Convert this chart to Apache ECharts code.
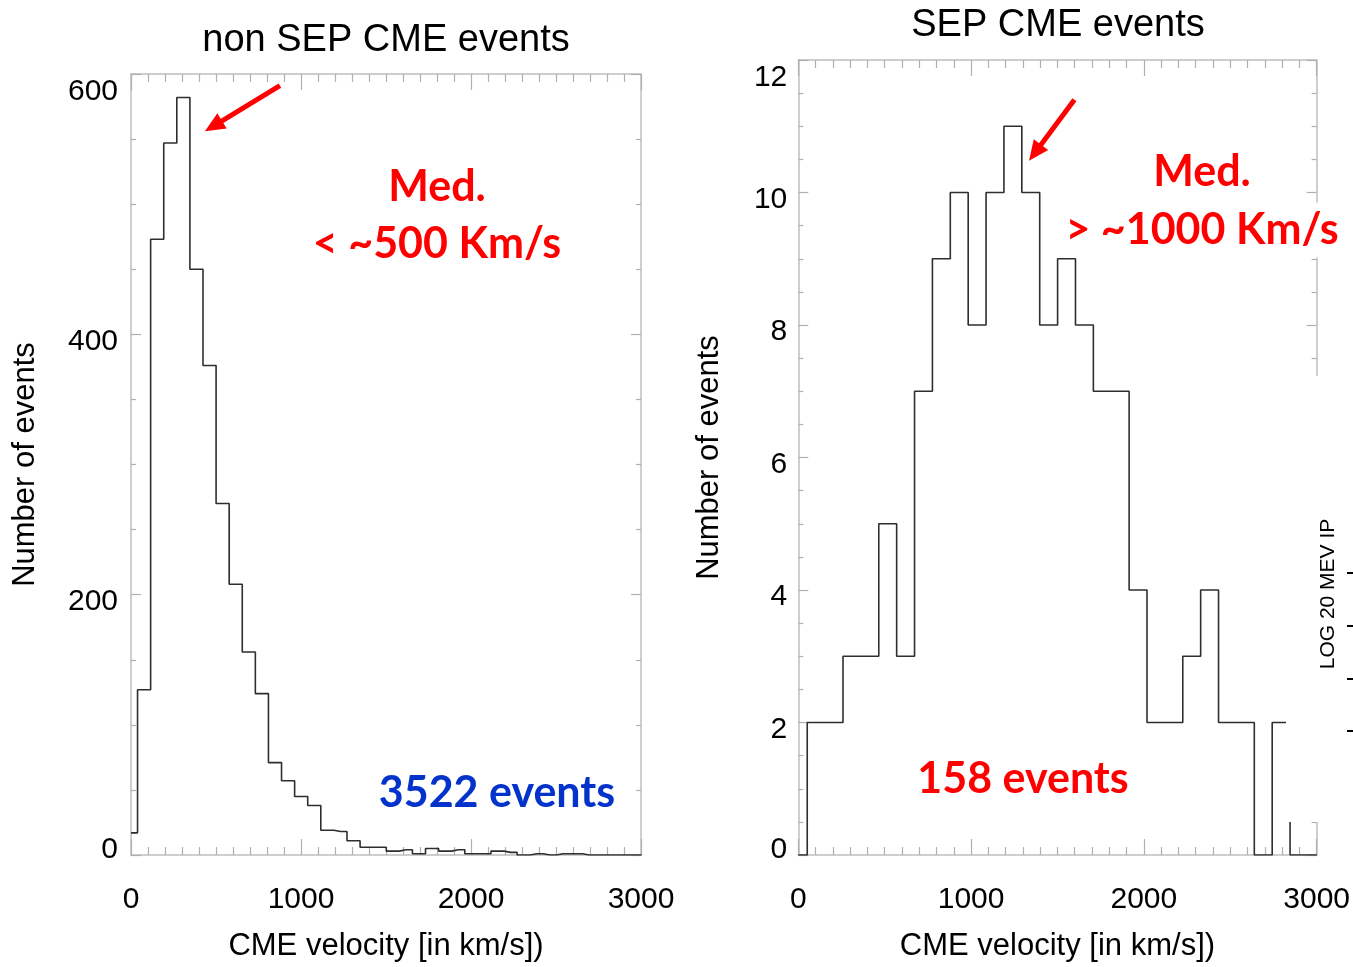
<!DOCTYPE html>
<html>
<head>
<meta charset="utf-8">
<title>CME velocity distributions</title>
<script src="https://cdn.jsdelivr.net/npm/echarts@6/dist/echarts.min.js"></script>
<style>
  html, body { margin: 0; padding: 0; background: #ffffff; }
  #chart { width: 1353px; height: 967px; }
</style>
</head>
<body>
<div id="chart"></div>
<script>
// Histogram bin centres (km/s) and counts, non-SEP CMEs
const nonSepBinCenters = [0, 77, 154, 231, 308, 385, 462, 539, 616, 693, 770, 847, 924, 1001,
  1078, 1155, 1232, 1309, 1386, 1463, 1540, 1617, 1694, 1771, 1848, 1925, 2002, 2079, 2156,
  2233, 2310, 2387, 2464, 2541, 2618, 2695, 2772, 2849, 2926, 3003];
const nonSepCounts = [17, 127, 473, 547, 582, 450, 376, 270, 208, 156, 124, 71, 57, 45,
  38, 19, 18, 11, 6, 6, 3, 4, 1, 5, 3, 4, 1, 1, 3,
  2, 0, 1, 0, 1, 1, 0, 0, 0, 0, 0];

// Histogram bin centres (km/s) and counts, SEP-associated CMEs
const sepBinCenters = [0, 103.5, 207, 310.5, 414, 517.5, 621, 724.5, 828, 931.5, 1035, 1138.5,
  1242, 1345.5, 1449, 1552.5, 1656, 1759.5, 1863, 1966.5, 2070, 2173.5, 2277, 2380.5, 2484,
  2587.5, 2691, 2794.5, 2898, 3001.5];
const sepCounts = [0, 2, 2, 3, 3, 5, 3, 7, 9, 10, 8, 10,
  11, 10, 8, 9, 8, 7, 7, 4, 2, 2, 3, 4, 2,
  2, 0, 2, 0, 0];

// Axis tick values
const speedTicks = [0, 1000, 2000, 3000];
const nonSepCountTicks = [0, 200, 400, 600];
const sepCountTicks = [0, 2, 4, 6, 8, 10, 12];

const FONT = '"Liberation Sans", Arial, Helvetica, sans-serif';
const NOTE_FONT = 'Lato, "Open Sans", sans-serif';
const FRAME = '#bfbfbf';
const TICK = '#b0b0b0';
const HIST = '#2e2e2e';

function pairs(xs, ys) {
  return xs.map((x, i) => [x, ys[i]]);
}

// y labels sit a little below their ticks, the end ones more so
function countLabel(top) {
  return function (v) {
    if (v === top) return '{hi|' + v + '}';
    if (v === 0) return '{lo|' + v + '}';
    return '{mid|' + v + '}';
  };
}
const labelRich = {
  hi:  { fontSize: 30, fontFamily: FONT, color: '#000', padding: [35, 0, 0, 0] },
  lo:  { fontSize: 30, fontFamily: FONT, color: '#000', padding: [0, 0, 10, 0] },
  mid: { fontSize: 30, fontFamily: FONT, color: '#000', padding: [14, 0, 0, 0] }
};

function speedAxis(grid, pos, withText, ticks, nameGap) {
  return {
    gridIndex: grid, type: 'value', position: pos,
    min: ticks[0], max: ticks[ticks.length - 1], interval: ticks[1] - ticks[0],
    axisLine: { show: true, onZero: false, lineStyle: { color: FRAME, width: 1.5 } },
    axisTick: { show: true, inside: true, length: 16, lineStyle: { color: TICK, width: 1.2 } },
    minorTick: { show: true, splitNumber: 10, length: 8, lineStyle: { color: TICK, width: 1.2 } },
    splitLine: { show: false },
    axisLabel: {
      show: withText, margin: 30, fontSize: 30, fontFamily: FONT, color: '#000',
      formatter: (v) => String(v)
    },
    name: withText ? 'CME velocity [in km/s])' : '',
    nameLocation: 'middle', nameGap: nameGap || 0,
    nameTextStyle: { fontSize: 31, fontFamily: FONT, color: '#000' }
  };
}

function countAxis(grid, pos, withText, ticks, nameGap, margin) {
  const top = ticks[ticks.length - 1];
  return {
    gridIndex: grid, type: 'value', position: pos,
    min: ticks[0], max: top, interval: ticks[1] - ticks[0],
    axisLine: { show: true, onZero: false, lineStyle: { color: FRAME, width: 1.5 } },
    axisTick: { show: true, inside: true, length: 10, lineStyle: { color: TICK, width: 1.2 } },
    minorTick: { show: true, splitNumber: 4, length: 5, lineStyle: { color: TICK, width: 1.2 } },
    splitLine: { show: false },
    axisLabel: { show: withText, margin: margin, formatter: countLabel(top), rich: labelRich },
    name: withText ? 'Number of events' : '',
    nameLocation: 'middle', nameGap: nameGap, nameRotate: 90,
    nameTextStyle: { fontSize: 31, fontFamily: FONT, color: '#000' }
  };
}

function arrow(from, to) {
  return {
    silent: true,
    symbol: ['none', 'triangle'],
    symbolSize: [18, 20],
    label: { show: false },
    emphasis: { disabled: true },
    lineStyle: { color: '#ff0000', width: 5, type: 'solid', opacity: 1 },
    itemStyle: { color: '#ff0000' },
    data: [[{ coord: from }, { coord: to }]]
  };
}

function note(text, x, y, color, boxed) {
  const style = {
    text: text, fill: color, align: 'center', verticalAlign: 'middle',
    font: 'bold 43px ' + NOTE_FONT
  };
  if (boxed) {
    style.backgroundColor = '#ffffff';
    style.padding = [6, 2, 6, 2];
  }
  return { type: 'text', x: x, y: y, z: 50, silent: true, style: style };
}

function plain(text, x, y, size) {
  return {
    type: 'text', x: x, y: y, z: 50, silent: true,
    style: {
      text: text, fill: '#000', align: 'center', verticalAlign: 'middle',
      font: size + 'px ' + FONT
    }
  };
}

const chart = echarts.init(document.getElementById('chart'), null, { renderer: 'canvas' });

chart.setOption({
  animation: false,
  backgroundColor: '#ffffff',
  grid: [
    { left: 131, top: 74, width: 510, height: 788.5, containLabel: false },
    { left: 798.3, top: 60, width: 519.4, height: 800, containLabel: false }
  ],
  xAxis: [
    speedAxis(0, 'bottom', true, speedTicks, 76),
    speedAxis(0, 'top', false, speedTicks),
    speedAxis(1, 'bottom', true, speedTicks, 76),
    speedAxis(1, 'top', false, speedTicks)
  ],
  yAxis: [
    countAxis(0, 'left', true, nonSepCountTicks, 90, 13),
    countAxis(0, 'right', false, nonSepCountTicks, 0, 0),
    countAxis(1, 'left', true, sepCountTicks, 73, 11),
    countAxis(1, 'right', false, sepCountTicks, 0, 0)
  ],
  series: [
    {
      name: 'non SEP', type: 'line', xAxisIndex: 0, yAxisIndex: 0,
      data: pairs(nonSepBinCenters, nonSepCounts),
      step: 'middle', showSymbol: false, symbol: 'none', clip: true, silent: true,
      lineStyle: { color: HIST, width: 1.6 },
      markLine: arrow([876, 591], [485, 560])
    },
    {
      name: 'SEP', type: 'line', xAxisIndex: 2, yAxisIndex: 2,
      data: pairs(sepBinCenters, sepCounts),
      step: 'middle', showSymbol: false, symbol: 'none', clip: true, silent: true,
      lineStyle: { color: HIST, width: 1.6 },
      markLine: arrow([1598, 11.4], [1370, 10.6])
    }
  ],
  graphic: [
    plain('non SEP CME events', 386, 41, 38),
    plain('SEP CME events', 1058, 26, 38),
    note('Med.', 437, 187, '#ff0000'),
    note('< ~500 Km/s', 437, 244, '#ff0000'),
    note('3522 events', 497, 793, '#0433cc'),
    note('Med.', 1202, 172, '#ff0000'),
    note('> ~1000 Km/s', 1202, 230, '#ff0000', true),
    note('158 events', 1023, 779, '#ff0000'),
    // pasted-over panel edge with its own axis title
    {
      type: 'group', z: 100, silent: true,
      children: [
        { type: 'rect', z: 100, shape: { x: 1286, y: 376, width: 67, height: 446 }, style: { fill: '#ffffff' } },
        {
          type: 'text', z: 101, x: 1328, y: 594, rotation: Math.PI / 2,
          style: { text: 'LOG 20 MEV IP', fill: '#000', align: 'center', verticalAlign: 'middle', font: '21px ' + FONT }
        },
        { type: 'line', z: 101, shape: { x1: 1347, y1: 573, x2: 1353, y2: 573 }, style: { stroke: '#000', lineWidth: 2 } },
        { type: 'line', z: 101, shape: { x1: 1347, y1: 626, x2: 1353, y2: 626 }, style: { stroke: '#000', lineWidth: 2 } },
        { type: 'line', z: 101, shape: { x1: 1347, y1: 679, x2: 1353, y2: 679 }, style: { stroke: '#000', lineWidth: 2 } },
        { type: 'line', z: 101, shape: { x1: 1347, y1: 731, x2: 1353, y2: 731 }, style: { stroke: '#000', lineWidth: 2 } }
      ]
    }
  ]
});
</script>
</body>
</html>
